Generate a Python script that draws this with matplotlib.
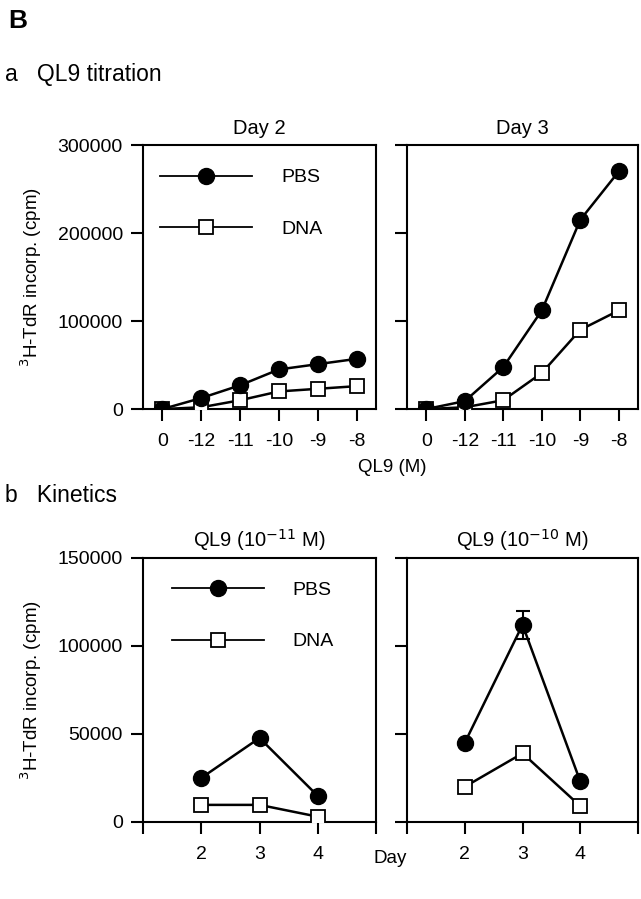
import numpy as np
import matplotlib
matplotlib.use('Agg')
import matplotlib.pyplot as plt

plt.rcParams['font.family'] = ['Liberation Sans', 'DejaVu Sans']

# titration data (x: log10 QL9 conc, 0 = no peptide)
conc_labels = ['0', '-12', '-11', '-10', '-9', '-8']
day2_pbs = [0, 12500, 27000, 45000, 51000, 57000]
day2_dna = [0, 2000, 10000, 20000, 23000, 26000]
day3_pbs = [0, 9000, 47700, 112000, 215000, 270000]
day3_dna = [0, 2000, 10000, 41000, 90000, 112000]

# kinetics data
days = [2, 3, 4]
k11_pbs = [25000, 47700, 14800]
k11_dna = [9700, 9700, 3000]
k10_pbs = [45000, 112000, 23000]
k10_dna = [20000, 39000, 9000]
k10_pbs_err = [0, 8000, 0]

fig = plt.figure(figsize=(6.41, 8.99), dpi=100)

def style(ax):
    for s in ax.spines.values():
        s.set_linewidth(1.5)
    ax.tick_params(direction='out', length=8.5, width=1.5, labelsize=14)
    ax.tick_params(axis='x', pad=8.5)
    ax.tick_params(axis='y', pad=6)

def plot_pair(ax, xs, pbs, dna, err=None):
    ax.plot(xs, dna, color='black', lw=1.8, marker='s', ms=10,
            mfc='white', mec='black', mew=1.3, label='DNA', zorder=3)
    if err is not None:
        ax.errorbar(xs, pbs, yerr=err, fmt='none', ecolor='black',
                    elinewidth=1.5, capsize=5, capthick=1.5, zorder=2)
    ax.plot(xs, pbs, color='black', lw=1.8, marker='o', ms=11.5,
            mfc='black', mec='black', label='PBS', zorder=4)

def add_legend(ax, x0, y0):
    h, l = ax.get_legend_handles_labels()
    leg = ax.legend(h[::-1], l[::-1], loc='upper left', bbox_to_anchor=(x0, y0),
                    frameon=False, handlelength=4.7, handletextpad=1.5,
                    labelspacing=1.75, fontsize=14, borderpad=0, borderaxespad=0)
    for ln in leg.get_lines():
        ln.set_linewidth(1.3)

# panel a
ax1 = fig.add_axes([0.2231, 0.545, 0.3635, 0.2937])
ax2 = fig.add_axes([0.635, 0.545, 0.3604, 0.2937])
idx = np.arange(len(conc_labels))
plot_pair(ax1, idx, day2_pbs, day2_dna)
plot_pair(ax2, idx, day3_pbs, day3_dna)
for ax, t in [(ax1, 'Day 2'), (ax2, 'Day 3')]:
    style(ax)
    ax.set_xlim(-0.5, 5.5)
    ax.set_ylim(0, 300000)
    ax.set_xticks(idx)
    ax.set_xticklabels(conc_labels)
    ax.set_yticks([0, 100000, 200000, 300000])
    ax.set_title(t, fontsize=14.5, pad=8)
ax2.set_yticklabels([])
ax1.set_ylabel('$^{3}$H-TdR incorp. (cpm)', fontsize=13.5, labelpad=10)
add_legend(ax1, 0.075, 0.91)

# panel b
ax3 = fig.add_axes([0.2231, 0.0857, 0.3635, 0.2937])
ax4 = fig.add_axes([0.635, 0.0857, 0.3604, 0.2937])
plot_pair(ax3, days, k11_pbs, k11_dna)
plot_pair(ax4, days, k10_pbs, k10_dna, err=k10_pbs_err)
for ax, t in [(ax3, 'QL9 (10$^{-11}$ M)'), (ax4, 'QL9 (10$^{-10}$ M)')]:
    style(ax)
    ax.set_xlim(1, 5)
    ax.set_ylim(0, 150000)
    ax.set_xticks([1, 2, 3, 4, 5])
    ax.set_xticklabels(['', '2', '3', '4', ''])
    ax.set_yticks([0, 50000, 100000, 150000])
    ax.set_title(t, fontsize=14.5, pad=8)
ax4.set_yticklabels([])
ax3.set_ylabel('$^{3}$H-TdR incorp. (cpm)', fontsize=13.5, labelpad=10)
add_legend(ax3, 0.125, 0.912)

# figure labels
fig.text(0.013, 0.977, 'B', fontsize=19, fontweight='bold', va='center')
fig.text(0.008, 0.917, 'a   QL9 titration', fontsize=16.5, va='center')
fig.text(0.008, 0.449, 'b   Kinetics', fontsize=16.5, va='center')
fig.text(0.612, 0.480, 'QL9 (M)', fontsize=13.5, ha='center', va='center')
fig.text(0.608, 0.045, 'Day', fontsize=13.5, ha='center', va='center')

fig.savefig('out.png', dpi=100)
